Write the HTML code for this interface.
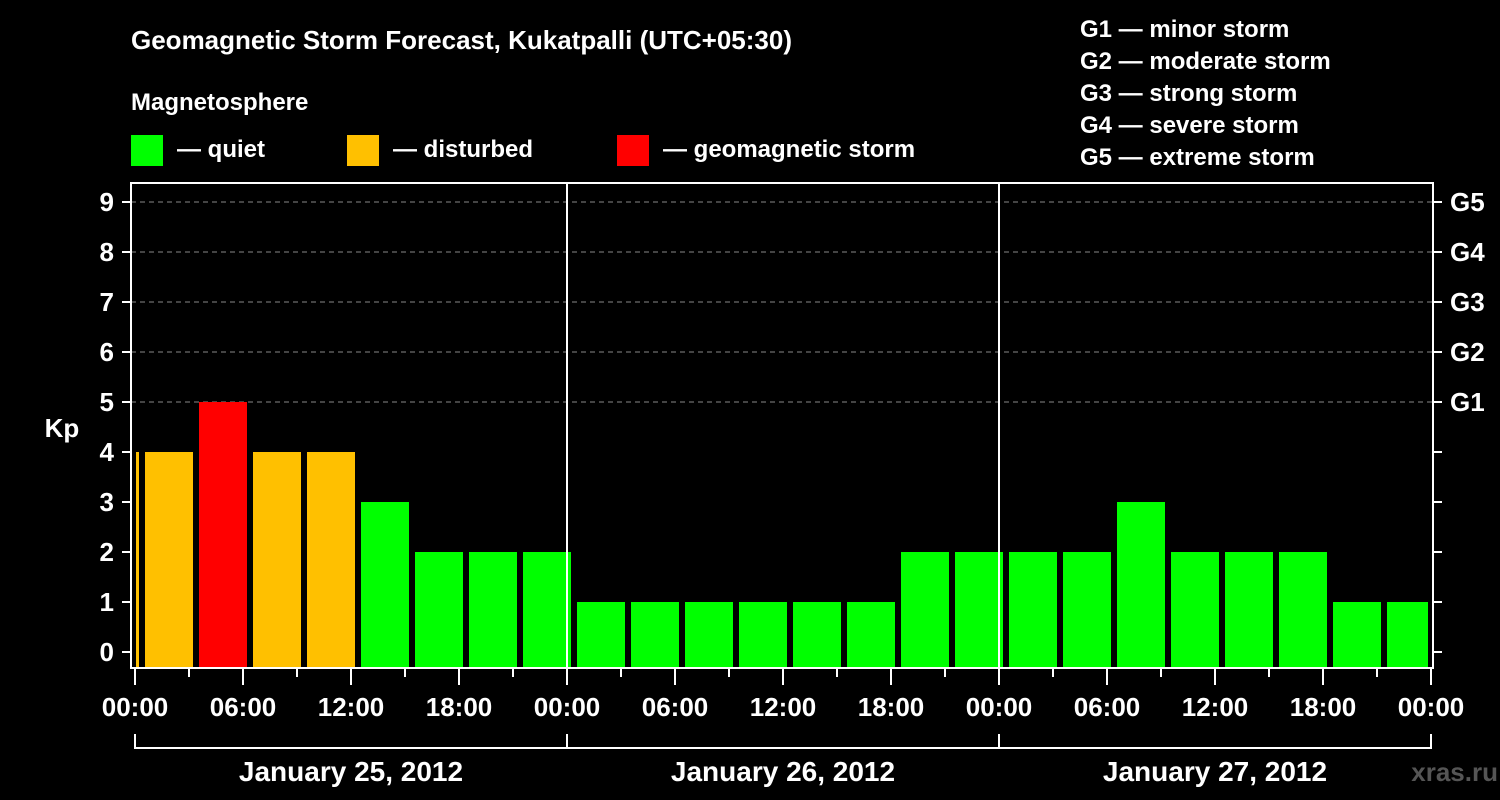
<!DOCTYPE html>
<html><head><meta charset="utf-8">
<style>
html,body{margin:0;padding:0;background:#000;}
svg{display:block;font-family:"Liberation Sans",sans-serif;font-weight:bold;}
</style></head>
<body>
<svg id="chart" width="1500" height="800" viewBox="0 0 1500 800">
<text x="131" y="49" fill="#fff" font-size="26">Geomagnetic Storm Forecast, Kukatpalli (UTC+05:30)</text>
<text x="131" y="110" fill="#fff" font-size="24">Magnetosphere</text>
<g><rect x="131" y="135" width="32" height="31" fill="#00ff00"/><text x="177" y="157" fill="#fff" font-size="24">— quiet</text></g>
<g><rect x="347" y="135" width="32" height="31" fill="#ffc000"/><text x="393" y="157" fill="#fff" font-size="24">— disturbed</text></g>
<g><rect x="617" y="135" width="32" height="31" fill="#ff0000"/><text x="663" y="157" fill="#fff" font-size="24">— geomagnetic storm</text></g>
<g fill="#fff" font-size="24">
<text x="1080" y="37">G1 — minor storm</text>
<text x="1080" y="69">G2 — moderate storm</text>
<text x="1080" y="101">G3 — strong storm</text>
<text x="1080" y="133">G4 — severe storm</text>
<text x="1080" y="165">G5 — extreme storm</text>
</g>
<text x="62" y="437" fill="#fff" font-size="26" text-anchor="middle">Kp</text>
<g id="grid"></g>
<g id="bars"></g>
<g id="axes"></g>
<text x="1498" y="781" fill="#555" font-size="26" text-anchor="end">xras.ru</text>
</svg>
<script>
const kpValues=[4,4,5,4,4,3,2,2,2,1,1,1,1,1,1,2,2,2,2,3,2,2,2,1,1];
const yTicks=[0,1,2,3,4,5,6,7,8,9];
const gLabels=["G1","G2","G3","G4","G5"];
const gLevels=[5,6,7,8,9];
const timeLabels=["00:00","06:00","12:00","18:00"];
const dayLabels=["January 25, 2012","January 26, 2012","January 27, 2012"];

const NS="http://www.w3.org/2000/svg";
const L=131,R=1433,T=183,B=668,X0=135,DAY=432;
function y(v){return 652-v*50;}
function xh(h){return X0+h*DAY/24;}
function mk(tag,attrs,parent,text){const e=document.createElementNS(NS,tag);for(const k in attrs)e.setAttribute(k,attrs[k]);if(text!==undefined)e.textContent=text;parent.appendChild(e);return e;}
const grid=document.getElementById('grid'),bars=document.getElementById('bars'),axes=document.getElementById('axes');

yTicks.forEach(v=>{
  if(v>0&&v<=9&&gLevels.includes(v)){const g=mk('line',{x1:L,x2:R,y1:y(v),y2:y(v),stroke:'#888','stroke-dasharray':'5,4','stroke-width':1},grid);
  
  }
  const t=mk('line',{x1:122,x2:L,y1:y(v),y2:y(v),stroke:'#fff','stroke-width':2},axes);
  
  
  const t2=mk('line',{x1:R,x2:1442,y1:y(v),y2:y(v),stroke:'#fff','stroke-width':2},axes);
  
  
  const lb=mk('text',{x:114,y:y(v)+9,fill:'#fff','font-size':26,'text-anchor':'end'},axes,String(v));
  
  
});
gLabels.forEach((g,i)=>{
  const lb=mk('text',{x:1450,y:y(gLevels[i])+9,fill:'#fff','font-size':26},axes,g);
  
  
});

kpValues.forEach((v,k)=>{
  let x1=xh(k*3-2.5)+1, x2=x1+48;
  x1=Math.max(x1,L+5); x2=Math.min(x2,R-5);
  const c=v>=5?'#ff0000':(v>=4?'#ffc000':'#00ff00');
  const r=mk('rect',{x:x1,y:y(v),width:x2-x1,height:B-y(v),fill:c},bars);
  
  
});

// frame
const fr=mk('rect',{x:L,y:T,width:R-L,height:B-T,fill:'none',stroke:'#fff','stroke-width':2},axes);


[1,2].forEach(d=>{const l=mk('line',{x1:xh(24*d),x2:xh(24*d),y1:T,y2:B,stroke:'#fff','stroke-width':2},axes);

});

for(let h=0;h<=72;h+=3){
  const len=h%6===0?17:9;
  const t=mk('line',{x1:xh(h),x2:xh(h),y1:B,y2:B+len,stroke:'#fff','stroke-width':2},axes);
  
  
  if(h%6===0){
    const lb=mk('text',{x:xh(h),y:716,fill:'#fff','font-size':26,'text-anchor':'middle'},axes,timeLabels[(h/6)%4]);
    
    
  }
}
const br=mk('line',{x1:xh(0),x2:xh(72),y1:748,y2:748,stroke:'#fff','stroke-width':2},axes);


for(let d=0;d<=3;d++){const v=mk('line',{x1:xh(24*d),x2:xh(24*d),y1:734,y2:749,stroke:'#fff','stroke-width':2},axes);

}
dayLabels.forEach((d,i)=>{
  const lb=mk('text',{x:xh(24*i+12),y:781,fill:'#fff','font-size':28,'text-anchor':'middle'},axes,d);
  
  
});
</script>
</body></html>
